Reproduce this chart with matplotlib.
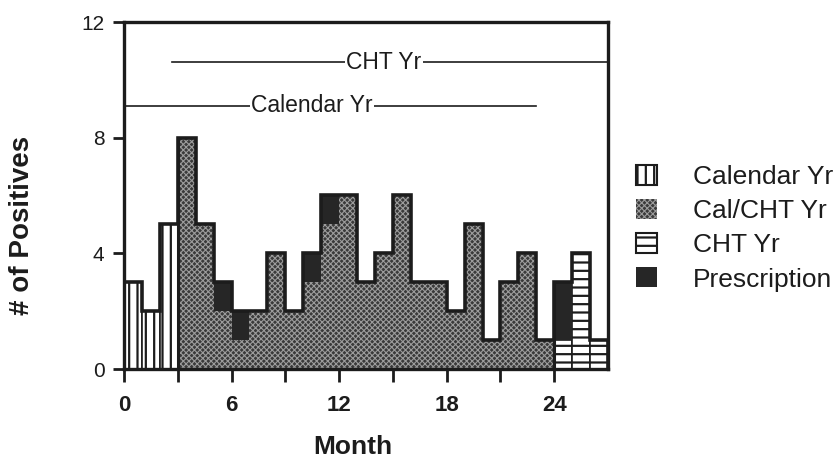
import matplotlib
matplotlib.use("Agg")
import matplotlib.pyplot as plt
from matplotlib.patches import Patch
import numpy as np

plt.rcParams['font.family'] = ['Liberation Sans', 'DejaVu Sans']
plt.rcParams['hatch.linewidth'] = 1.6

# ---- data ----
months = list(range(27))
calendar_yr = [3, 2, 5] + [0] * 24
cal_cht_yr = [0, 0, 0, 8, 5, 2, 1, 2, 4, 2, 3, 5, 6, 3, 4, 6, 3, 3, 2, 5, 1, 3, 4, 1, 0, 0, 0]
cht_yr = [0] * 24 + [1, 4, 1]
prescription = [0, 0, 0, 0, 0, 1, 1, 0, 0, 0, 1, 1, 0, 0, 0, 0, 0, 0, 0, 0, 0, 0, 0, 0, 2, 0, 0]
legend_labels = ["Calendar Yr", "Cal/CHT Yr", "CHT Yr", "Prescription"]
xtick_major = [0, 6, 12, 18, 24]
xtick_minor = [3, 9, 15, 21]
ytick_vals = [0, 4, 8, 12]
span_labels = ["Calendar Yr", "CHT Yr"]
span_ranges = [(0, 23), (2.7, 27)]
span_levels = [9.1, 10.6]
span_text_x = [10.5, 14.5]

INK = '#1c1c1c'
STIP_FACE = '#3a3a3a'
STIP_HATCH = '#9c9c9c'
PRESC = '#262626'

fig = plt.figure(figsize=(8.39, 4.65), dpi=100)
ax = fig.add_axes([124/839, 1-369/465, (608-124)/839, (369-22)/465])

x = np.array(months)
cal = np.array(calendar_yr)
cc = np.array(cal_cht_yr)
ch = np.array(cht_yr)
pr = np.array(prescription)

b1 = ax.bar(x, cal, width=1.0, align='edge', facecolor='white', edgecolor=INK,
            hatch='||', linewidth=1.2)
b2 = ax.bar(x, cc, width=1.0, align='edge', facecolor=STIP_FACE, edgecolor=STIP_HATCH,
            hatch='xxxxxx', linewidth=0)
b3 = ax.bar(x, ch, width=1.0, align='edge', facecolor='white', edgecolor=INK,
            hatch='--', linewidth=1.2)
b4 = ax.bar(x, pr, width=1.0, align='edge', bottom=cal + cc + ch, facecolor=PRESC,
            edgecolor=PRESC, linewidth=0)

for p in b2:
    if hasattr(p, 'set_hatch_linewidth'):
        p.set_hatch_linewidth(0.8)

total = cal + cc + ch + pr
edges = np.arange(len(months) + 1)
ax.stairs(total, edges, baseline=0, color=INK, linewidth=2.6, zorder=5)
# category boundaries
ax.vlines([3, 24], 0, [total[3], total[24]], color=INK, linewidth=2.2, zorder=5)

# span annotations
for lab, (a, b), lev, tx in zip(span_labels, span_ranges, span_levels, span_text_x):
    ax.plot([a, b], [lev, lev], color=INK, linewidth=1.2, zorder=6, clip_on=False)
    ax.text(tx, lev, lab, ha='center', va='center', fontsize=16.5, color=INK, zorder=7,
            bbox=dict(facecolor='white', edgecolor='none', pad=1.0))

ax.set_xlim(0, 27)
ax.set_ylim(0, 12)
ax.set_xticks(xtick_major)
ax.set_xticks(xtick_minor, minor=True)
ax.set_yticks(ytick_vals)
ax.tick_params(axis='both', which='both', direction='out', width=2, color=INK,
               labelcolor=INK)
ax.tick_params(axis='x', which='both', length=9, pad=10)
ax.tick_params(axis='y', which='both', length=8, pad=6)
ax.set_xticklabels([str(v) for v in xtick_major], fontweight='bold', fontsize=16)
ax.set_yticklabels([str(v) for v in ytick_vals], fontsize=15)
for s in ax.spines.values():
    s.set_linewidth(2.4)
    s.set_color(INK)
    s.set_zorder(8)

fig.text(22/839, 1-225/465, "# of Positives", rotation=90, ha='center', va='center',
         fontsize=20, fontweight='bold', color=INK)
fig.text(353/839, 1-447/465, "Month", ha='center', va='center',
         fontsize=19, fontweight='bold', color=INK)

handles = [
    Patch(facecolor='white', edgecolor=INK, hatch='||', linewidth=1.5),
    Patch(facecolor=STIP_FACE, edgecolor=STIP_HATCH, hatch='xxxxxx', linewidth=0),
    Patch(facecolor='white', edgecolor=INK, hatch='--', linewidth=1.5),
    Patch(facecolor=PRESC, edgecolor=PRESC, linewidth=0),
]
leg = fig.legend(handles, legend_labels, loc='upper left',
                 bbox_to_anchor=(636/839, 1-165/465), bbox_transform=fig.transFigure,
                 frameon=False, fontsize=19, handlelength=0.8, handleheight=0.78,
                 handletextpad=1.35, labelspacing=0.38, borderpad=0, borderaxespad=0)
for t in leg.get_texts():
    t.set_color(INK)
for p in leg.get_patches()[1:2]:
    if hasattr(p, 'set_hatch_linewidth'):
        p.set_hatch_linewidth(0.8)

fig.savefig("out.png", dpi=100, facecolor='white')
